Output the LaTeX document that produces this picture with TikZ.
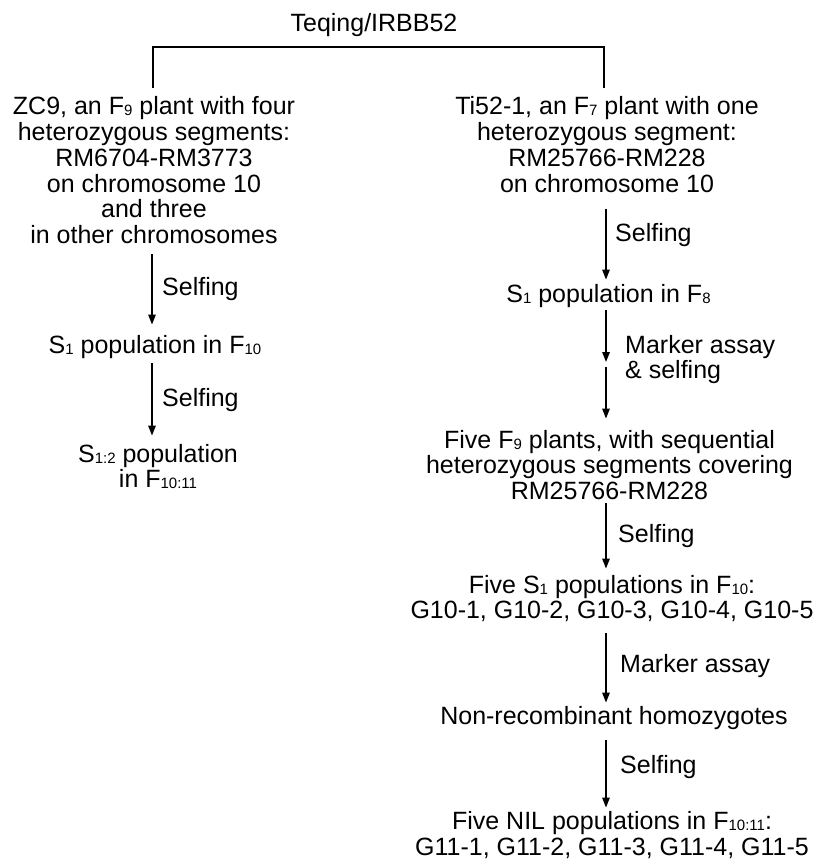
\documentclass[tikz,border=0pt]{standalone}
\usepackage{fontspec}
\setmainfont{Liberation Sans}
\usetikzlibrary{arrows.meta}
\newcommand\sbs[1]{\raisebox{-1pt}{\fontsize{15}{15}\selectfont #1}}
\newcommand\blk[1]{\begin{tabular}[t]{@{}c@{}}#1\end{tabular}}
\newcommand\lblk[1]{\begin{tabular}[t]{@{}l@{}}#1\end{tabular}}
\begin{document}
\begin{tikzpicture}[x=1pt,y=-1pt,
  txt/.style={inner sep=0pt, anchor=base, font=\fontsize{25}{25.5}\selectfont},
  lbl/.style={inner sep=0pt, anchor=base west, font=\fontsize{25}{23.5}\selectfont},
  conn/.style={line width=1.4pt},
  arr/.style={conn,-{Triangle[length=10pt,width=7.5pt]}}]
\useasboundingbox (0,0) rectangle (819,861);

% coordinates for connector columns
\coordinate (lx) at (152,0);
\coordinate (rx) at (606,0);
\coordinate (bl) at (153,47);
\coordinate (br) at (604,47);
\coordinate (m1) at (606,362);
\coordinate (m2) at (606,367);

% text nodes
\node[txt] (teq) at (374,32) {Teqing/IRBB52};
\node[txt] (zc) at (154,115) {\blk{ZC9, an F\sbs{9} plant with four\\heterozygous segments:\\RM6704-RM3773\\on chromosome 10\\and three\\in other chromosomes}};
\node[txt] (s1L) at (155,353) {\blk{S\sbs{1} population in F\sbs{10}}};
\node[txt] (s12) at (158,462) {\blk{S\sbs{1:2} population\\in F\sbs{10:11}}};
\node[txt] (ti) at (607,115) {\blk{Ti52-1, an F\sbs{7} plant with one\\heterozygous segment:\\RM25766-RM228\\on chromosome 10}};
\node[txt] (s1R) at (608.5,302) {\blk{S\sbs{1} population in F\sbs{8}}};
\node[txt] (f9) at (609.5,448) {\blk{Five F\sbs{9} plants, with sequential\\heterozygous segments covering\\RM25766-RM228}};
\node[txt] (s1F) at (612,593) {\blk{Five S\sbs{1} populations in F\sbs{10}:\\G10-1, G10-2, G10-3, G10-4, G10-5}};
\node[txt] (nr) at (614,724) {\blk{Non-recombinant homozygotes}};
\node[txt] (nil) at (612,829.5) {\blk{Five NIL populations in F\sbs{10:11}:\\G11-1, G11-2, G11-3, G11-4, G11-5}};

% arrow labels
\node[lbl] (la) at (162,295) {Selfing};
\node[lbl] (lb) at (162,406) {Selfing};
\node[lbl] (ra) at (615,241) {Selfing};
\node[lbl] (rb) at (625,353) {\lblk{Marker assay\\\& selfing}};
\node[lbl] (rc) at (618,542) {Selfing};
\node[lbl] (rd) at (620,672) {Marker assay};
\node[lbl] (re) at (620,773) {Selfing};

% bracket
\draw[conn, shorten <=9.15pt, shorten >=9.15pt] (zc.north -| bl) -- (bl) -- (br) -- (ti.north -| br);

% left arrows
\draw[arr, shorten <=2.85pt, shorten >=10.15pt] (zc.south -| lx) -- (s1L.north -| lx);
\draw[arr, shorten <=2.35pt, shorten >=8.15pt] (s1L.south -| lx) -- (s12.north -| lx);

% right arrows
\draw[arr, shorten <=8.85pt, shorten >=4.15pt] (ti.south -| rx) -- (s1R.north -| rx);
\draw[arr, shorten <=0.35pt] (s1R.south -| rx) -- (m1);
\draw[arr, shorten >=11.15pt] (m2) -- (f9.north -| rx);
\draw[arr, shorten <=-3.65pt, shorten >=6.15pt] (f9.south -| rx) -- (s1F.north -| rx);
\draw[arr, shorten <=6.85pt, shorten >=3.15pt] (s1F.south -| rx) -- (nr.north -| rx);
\draw[arr, shorten <=8.35pt, shorten >=3.65pt] (nr.south -| rx) -- (nil.north -| rx);
\end{tikzpicture}
\end{document}
